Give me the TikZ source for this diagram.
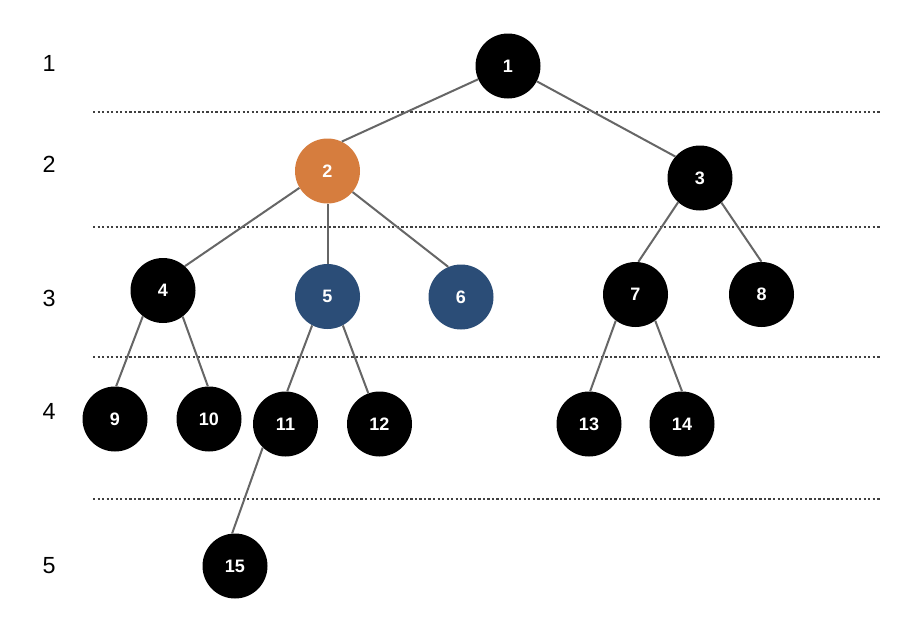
\documentclass[tikz,border=0pt]{standalone}
\usepackage{fontspec}
\setmainfont{Liberation Sans}
\usepackage{xcolor}
\usepackage{tikz}
\definecolor{heaporange}{RGB}{214,125,62}
\definecolor{heapblue}{RGB}{43,77,119}
\definecolor{edgegray}{RGB}{102,102,102}
\colorlet{rulegray}{black!75}

\begin{document}
\begin{tikzpicture}[
    x=0.75pt, y=-0.75pt,
    vert/.style={circle, fill=black, text=white, minimum size=48.75pt,
                 inner sep=0pt, font=\bfseries\fontsize{13.5}{16}\selectfont},
    picked/.style={vert, fill=heaporange},
    kid/.style={vert, fill=heapblue},
    lvl/.style={font=\fontsize{17.5}{20}\selectfont, inner sep=0pt},
    edge/.style={edgegray, line width=1.5pt},
    sep/.style={rulegray, line width=1.1pt, dash pattern=on 1.7pt off 1.7pt}
  ]
    \path[fill=white, use as bounding box] (0,0) rectangle (908,626);

    % level numbers
    \node[lvl] (l1) at (49,63)  {1};
    \node[lvl] (l2) at (49,164) {2};
    \node[lvl] (l3) at (49,298) {3};
    \node[lvl] (l4) at (49,411) {4};
    \node[lvl] (l5) at (49,566) {5};

    \draw[sep] (93,112) -- (880,112);
    \draw[sep] (93,227) -- (880,227);
    \draw[sep] (93,357) -- (880,357);
    \draw[sep] (93,499) -- (880,499);

    \node[vert]   (n1)  at (508,66)    {1};
    \node[picked] (n2)  at (327.5,171) {2};
    \node[vert]   (n3)  at (700,178)   {3};
    \node[vert]   (n4)  at (163,290.5) {4};
    \node[kid]    (n5)  at (327.5,296.5) {5};
    \node[kid]    (n6)  at (461,297)   {6};
    \node[vert]   (n7)  at (635.5,294.5) {7};
    \node[vert]   (n8)  at (761.5,294.5) {8};
    \node[vert]   (n9)  at (115,419)   {9};
    \node[vert]   (n10) at (209,419)   {10};
    \node[vert]   (n11) at (285.5,424) {11};
    \node[vert]   (n12) at (379.5,424) {12};
    \node[vert]   (n13) at (589,424)   {13};
    \node[vert]   (n14) at (682,424)   {14};
    \node[vert]   (n15) at (235,566)   {15};

    \draw[edge] (n1.204) -- (n2.64);
    \draw[edge] (n1.332) -- (n3.139);
    \draw[edge] (n2.211) -- (n4.48);
    \draw[edge] (n2.south) -- (n5.north);
    \draw[edge] (n2.320) -- (n6.113);
    \draw[edge] (n3.228) -- (n7.85);
    \draw[edge] (n3.311) -- (n8.north);
    \draw[edge] (n4.232) -- (n9.88);
    \draw[edge] (n4.307) -- (n10.92);
    \draw[edge] (n5.242) -- (n11.87);
    \draw[edge] (n5.298) -- (n12.110);
    \draw[edge] (n7.233) -- (n13.88);
    \draw[edge] (n7.307) -- (n14.north);
    \draw[edge] (n11.226) -- (n15.95);
  \end{tikzpicture}
\end{document}
